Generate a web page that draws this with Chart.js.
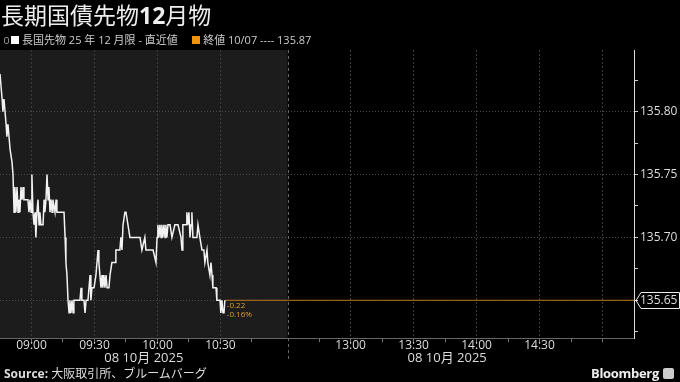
<!DOCTYPE html>
<html>
<head>
<meta charset="utf-8">
<script src="https://cdn.jsdelivr.net/npm/chart.js@4.4.1/dist/chart.umd.min.js"></script>
<style>
body{margin:0;background:#000;overflow:hidden;font-family:"Open Sans","Noto Sans CJK JP",sans-serif;color:#ddd}
#wrap{position:relative;width:680px;height:382px}
canvas{position:absolute;left:0;top:0}
#title{position:absolute;left:1px;top:0;font-size:23px;line-height:28px;color:#eee;font-family:"Noto Sans CJK JP",sans-serif;white-space:nowrap}
#title b{font-family:"Open Sans",sans-serif;font-weight:700}
#legend{position:absolute;left:4px;top:32px;font-size:11px;line-height:16px;color:#ccc;white-space:nowrap}
.sq{display:inline-block;width:8px;height:8px;margin-right:3px;vertical-align:-0px}
.pin{display:inline-block;width:3px;height:5px;border:1px solid #888;border-radius:2px;margin-right:2px;vertical-align:0}
#source{position:absolute;left:4px;top:366px;font-size:12px;line-height:16px;color:#ddd;white-space:nowrap}
#source b{font-family:"Open Sans",sans-serif;font-weight:700}
#logo{position:absolute;right:6px;top:364px;font-size:13px;line-height:18px;color:#eee;font-weight:700;font-family:"Open Sans",sans-serif;letter-spacing:-0.3px}
#logo span{display:inline-block;width:11px;height:11px;background:#ccc;border-radius:2px;margin-left:4px;vertical-align:-1px}
</style>
</head>
<body>
<div id="wrap">
<canvas id="chart" width="680" height="382"></canvas>
<div id="title">長期国債先物<b>12</b>月物</div>
<div id="legend"><span class="pin"></span><span class="sq" style="background:#fff"></span>長国先物 25 年 12 月限 - 直近値 &nbsp;&nbsp;&nbsp;&nbsp;<span class="sq" style="background:#f0960e"></span>終値 10/07 ---- 135.87</div>
<div id="source"><b>Source:</b> 大阪取引所、ブルームバーグ</div>
<div id="logo">Bloomberg<span></span></div>
</div>
<script>
// minutes after 08:45 (lunch break removed: afternoon session starts at 137)
var mins = [0.0, 0.5, 1.0, 1.4, 1.9, 2.4, 2.9, 3.3, 3.8, 4.3, 4.8, 5.2, 5.7, 6.2, 6.7, 7.1, 7.6, 8.1, 8.6, 9.0,
  9.5, 10.0, 10.5, 11.0, 11.4, 12.4, 13.3, 13.8, 14.3, 14.8, 15.2, 15.7, 16.2, 16.7, 17.1, 17.6, 18.1, 18.6, 19.0, 19.5,
  20.5, 21.0, 21.4, 21.9, 22.4, 22.9, 23.3, 23.8, 24.3, 24.8, 25.2, 26.2, 26.7, 27.1, 28.6, 30.5, 31.0, 31.4, 31.9, 32.4,
  32.9, 33.3, 33.8, 34.3, 34.8, 35.2, 38.1, 38.6, 39.0, 40.0, 40.5, 41.0, 41.9, 42.4, 42.9, 43.3, 43.8, 44.8, 45.7, 46.2,
  46.7, 47.1, 47.6, 48.1, 48.6, 49.0, 49.5, 50.0, 50.5, 51.0, 51.9, 52.4, 53.3, 54.8, 55.2, 57.1, 57.6, 58.1, 58.6, 59.5,
  60.0, 61.9, 66.7, 67.6, 69.0, 69.5, 72.9, 74.3, 74.8, 75.2, 75.7, 76.2, 76.7, 77.1, 77.6, 78.1, 78.6, 79.0, 79.5, 80.0,
  81.0, 81.9, 83.3, 84.8, 86.2, 86.7, 87.1, 88.6, 89.0, 89.5, 90.0, 90.5, 91.0, 91.4, 91.9, 93.8, 94.3, 95.2, 96.2, 97.1,
  97.6, 98.6, 99.0, 100.0, 100.5, 101.0, 101.4, 102.9, 103.3, 104.8, 105.2, 105.7, 106.2, 106.7, 107.1];
var prices = [135.83, 135.82, 135.81, 135.80, 135.81, 135.80, 135.79, 135.78, 135.79, 135.78, 135.77, 135.77, 135.76, 135.75, 135.72, 135.74, 135.72, 135.74, 135.72, 135.73,
  135.72, 135.74, 135.73, 135.74, 135.73, 135.73, 135.73, 135.72, 135.73, 135.72, 135.75, 135.72, 135.71, 135.72, 135.70, 135.72, 135.73, 135.71, 135.72, 135.71,
  135.71, 135.73, 135.72, 135.73, 135.75, 135.73, 135.74, 135.72, 135.73, 135.72, 135.73, 135.72, 135.73, 135.72, 135.72, 135.72, 135.70, 135.68, 135.67, 135.65,
  135.64, 135.65, 135.64, 135.65, 135.64, 135.65, 135.65, 135.66, 135.65, 135.65, 135.64, 135.65, 135.65, 135.66, 135.67, 135.65, 135.66, 135.66, 135.67, 135.68,
  135.69, 135.68, 135.67, 135.66, 135.67, 135.66, 135.67, 135.66, 135.67, 135.66, 135.66, 135.67, 135.68, 135.68, 135.69, 135.69, 135.70, 135.69, 135.71, 135.72,
  135.72, 135.70, 135.70, 135.69, 135.70, 135.69, 135.69, 135.68, 135.70, 135.71, 135.70, 135.71, 135.70, 135.71, 135.70, 135.71, 135.70, 135.71, 135.70, 135.71,
  135.71, 135.70, 135.71, 135.71, 135.70, 135.69, 135.71, 135.71, 135.72, 135.71, 135.72, 135.70, 135.71, 135.72, 135.70, 135.70, 135.71, 135.70, 135.69, 135.69,
  135.68, 135.69, 135.68, 135.67, 135.68, 135.67, 135.66, 135.66, 135.65, 135.65, 135.64, 135.65, 135.64, 135.64, 135.65];

var xTickMins = [15, 45, 75, 105, 167, 197, 227, 257, 287];
var xTickLabels = ['09:00', '09:30', '10:00', '10:30', '13:00', '13:30', '14:00', '14:30', ''];
var xMinorMins = [30, 60, 90, 120, 152, 182, 212, 242, 272];
var yTicks = [135.65, 135.70, 135.75, 135.80];
var yMinor = [135.625, 135.675, 135.725, 135.775, 135.825];
var lastPrice = 135.65;
var changeLabels = ['-0.22', '-0.16%'];
var dateLabel = '08 10月 2025';
var sessionBreak = 137;   // 11:02
var afternoonEnd = 289;   // 15:02
var axisMax = 302;        // 15:15

var isMajorY = function (v) { return yTicks.some(function (t) { return Math.abs(t - v) < 1e-6; }); };

var sessionPlugin = {
  id: 'session',
  beforeDraw: function (chart) {
    var c = chart.ctx, a = chart.chartArea, x = chart.scales.x;
    c.save();
    c.fillStyle = '#1c1c1c';
    c.fillRect(a.left, a.top, x.getPixelForValue(sessionBreak) - a.left, a.bottom - a.top);
    c.restore();
  },
  afterDraw: function (chart) {
    var c = chart.ctx, a = chart.chartArea, x = chart.scales.x, y = chart.scales.y;
    var bx = Math.round(x.getPixelForValue(sessionBreak)) + 0.5;
    c.save();
    c.strokeStyle = '#666';
    c.setLineDash([3, 3]);
    c.beginPath();
    c.moveTo(bx, a.top);
    c.lineTo(bx, 362);
    c.stroke();
    c.setLineDash([]);

    c.fillStyle = '#ddd';
    c.font = '13px "Open Sans", "Noto Sans CJK JP"';
    c.textAlign = 'center';
    c.textBaseline = 'middle';
    c.fillText(dateLabel, x.getPixelForValue(sessionBreak / 2), 358);
    c.fillText(dateLabel, x.getPixelForValue((sessionBreak + afternoonEnd) / 2), 358);

    // last price tag on the axis
    var ty = Math.round(y.getPixelForValue(lastPrice)) + 0.5;
    c.strokeStyle = '#eee';
    c.beginPath();
    c.moveTo(636, ty);
    c.lineTo(641, ty - 8);
    c.lineTo(679.5, ty - 8);
    c.lineTo(679.5, ty + 8);
    c.lineTo(641, ty + 8);
    c.closePath();
    c.stroke();

    // change labels next to the last point
    var pts = chart.getDatasetMeta(0).data;
    var p = pts[pts.length - 1];
    c.fillStyle = '#e39a2c';
    c.font = '8px "Open Sans"';
    c.textAlign = 'left';
    c.fillText(changeLabels[0], p.x + 2, ty + 5);
    c.fillText(changeLabels[1], p.x + 2, ty + 14);
    c.restore();
  }
};

new Chart(document.getElementById('chart'), {
  type: 'line',
  data: {
    datasets: [{
      data: mins.map(function (m, i) { return { x: m, y: prices[i] }; }),
      borderColor: '#f2f2f2',
      borderWidth: 1.5,
      pointRadius: 0,
      tension: 0,
      order: 0
    }, {
      data: [{ x: mins[mins.length - 1], y: lastPrice }, { x: axisMax, y: lastPrice }],
      borderColor: '#b8761c',
      borderWidth: 1,
      pointRadius: 0,
      order: 1
    }]
  },
  options: {
    responsive: false,
    animation: false,
    devicePixelRatio: 1,
    layout: { padding: { top: 50, left: 0, right: 0, bottom: 0 } },
    plugins: { legend: { display: false }, tooltip: { enabled: false } },
    scales: {
      x: {
        type: 'linear',
        min: 0,
        max: axisMax,
        afterBuildTicks: function (s) {
          s.ticks = xTickMins.concat(xMinorMins).sort(function (a, b) { return a - b; }).map(function (v) { return { value: v }; });
        },
        afterFit: function (s) { s.height = 44; },
        grid: {
          color: function (c) { return c.tick && xTickMins.indexOf(c.tick.value) >= 0 ? '#3c3c3c' : 'transparent'; },
          tickColor: '#777',
          tickLength: 4
        },
        border: { color: '#666', dash: [2, 2] },
        ticks: {
          autoSkip: false,
          maxRotation: 0,
          color: '#ddd',
          padding: -4,
          font: { size: 12, family: 'Open Sans' },
          callback: function (v) { var i = xTickMins.indexOf(v); return i < 0 ? '' : xTickLabels[i]; }
        }
      },
      y: {
        position: 'right',
        min: 135.62,
        max: 135.849,
        afterBuildTicks: function (s) {
          s.ticks = yTicks.concat(yMinor).sort(function (a, b) { return a - b; }).map(function (v) { return { value: v }; });
        },
        afterFit: function (s) { s.width = 46; },
        grid: {
          color: function (c) { return c.tick && isMajorY(c.tick.value) ? '#4a4a4a' : 'transparent'; },
          tickColor: '#ccc',
          tickLength: 4
        },
        border: { color: '#ddd', dash: [1, 2] },
        ticks: {
          color: '#ddd',
          padding: 2,
          font: { size: 12, family: 'Open Sans' },
          callback: function (v) { return isMajorY(v) ? v.toFixed(2) : ''; }
        }
      }
    }
  },
  plugins: [sessionPlugin]
});
</script>
</body>
</html>
